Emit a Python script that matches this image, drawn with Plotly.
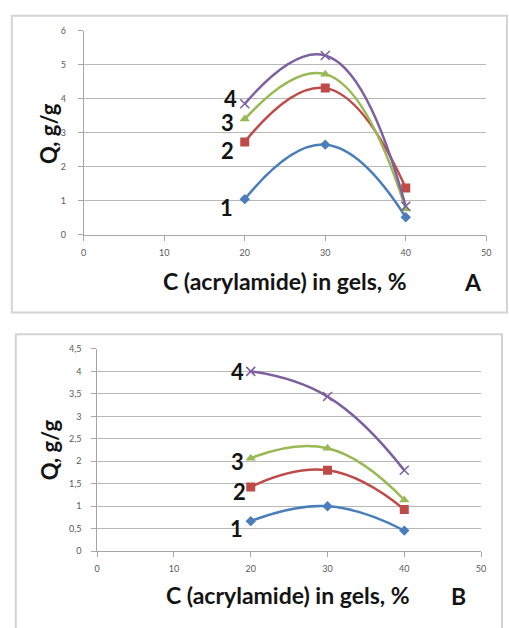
import plotly.graph_objects as go

W, H = 509, 628

x_vals = [20, 30, 40]
# Panel A
a1 = [1.05, 2.65, 0.52]
a2 = [2.73, 4.31, 1.38]
a3 = [3.40, 4.72, 0.76]
a4 = [3.85, 5.27, 0.84]
# Panel B
b1 = [0.67, 1.00, 0.46]
b2 = [1.43, 1.80, 0.93]
b3 = [2.07, 2.29, 1.14]
b4 = [4.00, 3.44, 1.80]

series_labels = ["1", "2", "3", "4"]
x_ticks = [0, 10, 20, 30, 40, 50]
x_title = "C (acrylamide) in gels, %"
y_title = "Q, g/g"

colors = ["#4a7ebb", "#be4b48", "#98b954", "#7d60a0"]
symbols = ["diamond", "square", "triangle-up", "x-thin"]
msizes = [8, 9, 9, 9]

FONT = "Lato, Open Sans, sans-serif"

fig = go.Figure()

def add_panel(data, xa, ya):
    for i, ys in enumerate(data):
        m = dict(symbol=symbols[i], size=msizes[i], color=colors[i])
        if symbols[i] == "x-thin":
            m["line"] = dict(color=colors[i], width=1.5)
        fig.add_trace(go.Scatter(
            x=x_vals, y=ys, mode="lines+markers",
            line=dict(color=colors[i], width=2.5, shape="spline", smoothing=1.3),
            marker=m, xaxis=xa, yaxis=ya, showlegend=False,
            hoverinfo="skip"))

add_panel([a1, a2, a3, a4], "x", "y")
add_panel([b1, b2, b3, b4], "x2", "y2")

def px(x):
    return x / W

def py(y):
    return 1 - y / H

axis_common = dict(showline=True, linecolor="#a6a6a6", linewidth=1,
                   ticks="outside", ticklen=5, tickcolor="#a6a6a6",
                   tickfont=dict(family=FONT, size=9, color="#595959"),
                   zeroline=False, fixedrange=True)

fig.update_layout(
    width=W, height=H, margin=dict(l=0, r=0, t=0, b=0),
    paper_bgcolor="white", plot_bgcolor="white",
    separators=", ",
    xaxis=dict(domain=[px(82), px(491)], range=[0, 50], tickvals=x_ticks,
               showgrid=False, anchor="y", ticklabelstandoff=4, **axis_common),
    yaxis=dict(domain=[py(233), py(25)], range=[0, 6], dtick=1,
               showgrid=True, gridcolor="#b8b8b8", gridwidth=1, anchor="x",
               ticklabelstandoff=10, **axis_common),
    xaxis2=dict(domain=[px(95.7), px(485.7)], range=[0, 50], tickvals=x_ticks,
                showgrid=False, anchor="y2", ticklabelstandoff=4, **axis_common),
    yaxis2=dict(domain=[py(555), py(349)], range=[0, 4.5], dtick=0.5,
                showgrid=True, gridcolor="#b8b8b8", gridwidth=1, anchor="x2",
                ticklabelstandoff=8, **axis_common),
)

# Panel borders
fig.add_shape(type="rect", xref="paper", yref="paper",
              x0=px(9), x1=px(512), y0=py(312), y1=py(10),
              line=dict(color="#d4d4d4", width=2))
fig.add_shape(type="rect", xref="paper", yref="paper",
              x0=px(13), x1=px(507), y0=py(640), y1=py(334),
              line=dict(color="#d4d4d4", width=2))

def txt(x, y, s, angle=0, size=23):
    fig.add_annotation(xref="paper", yref="paper", x=px(x), y=py(y), text="<b>%s</b>" % s,
                       showarrow=False, textangle=angle, xanchor="center", yanchor="middle",
                       font=dict(family=FONT, size=size, color="#141414"))

txt(46, 130, y_title, angle=-90, size=22)
txt(47, 452, y_title, angle=-90, size=22)
txt(286, 280, x_title)
txt(290, 600, x_title)
txt(477, 281, "A")
txt(463, 601, "B")

# Series number labels next to first point
a_shift = [(-18, -8), (-17, -9), (-17, -3), (-14, 5)]
b_shift = [(-14, -7), (-11, -5), (-13, -3), (-13, 0)]
for i, ys in enumerate([a1, a2, a3, a4]):
    fig.add_annotation(xref="x", yref="y", x=x_vals[0], y=ys[0], text="<b>%s</b>" % series_labels[i],
                       showarrow=False, xshift=a_shift[i][0], yshift=a_shift[i][1],
                       xanchor="center", yanchor="middle",
                       font=dict(family=FONT, size=22, color="#141414"))
for i, ys in enumerate([b1, b2, b3, b4]):
    fig.add_annotation(xref="x2", yref="y2", x=x_vals[0], y=ys[0], text="<b>%s</b>" % series_labels[i],
                       showarrow=False, xshift=b_shift[i][0], yshift=b_shift[i][1],
                       xanchor="center", yanchor="middle",
                       font=dict(family=FONT, size=22, color="#141414"))

fig.write_html("out.html")
